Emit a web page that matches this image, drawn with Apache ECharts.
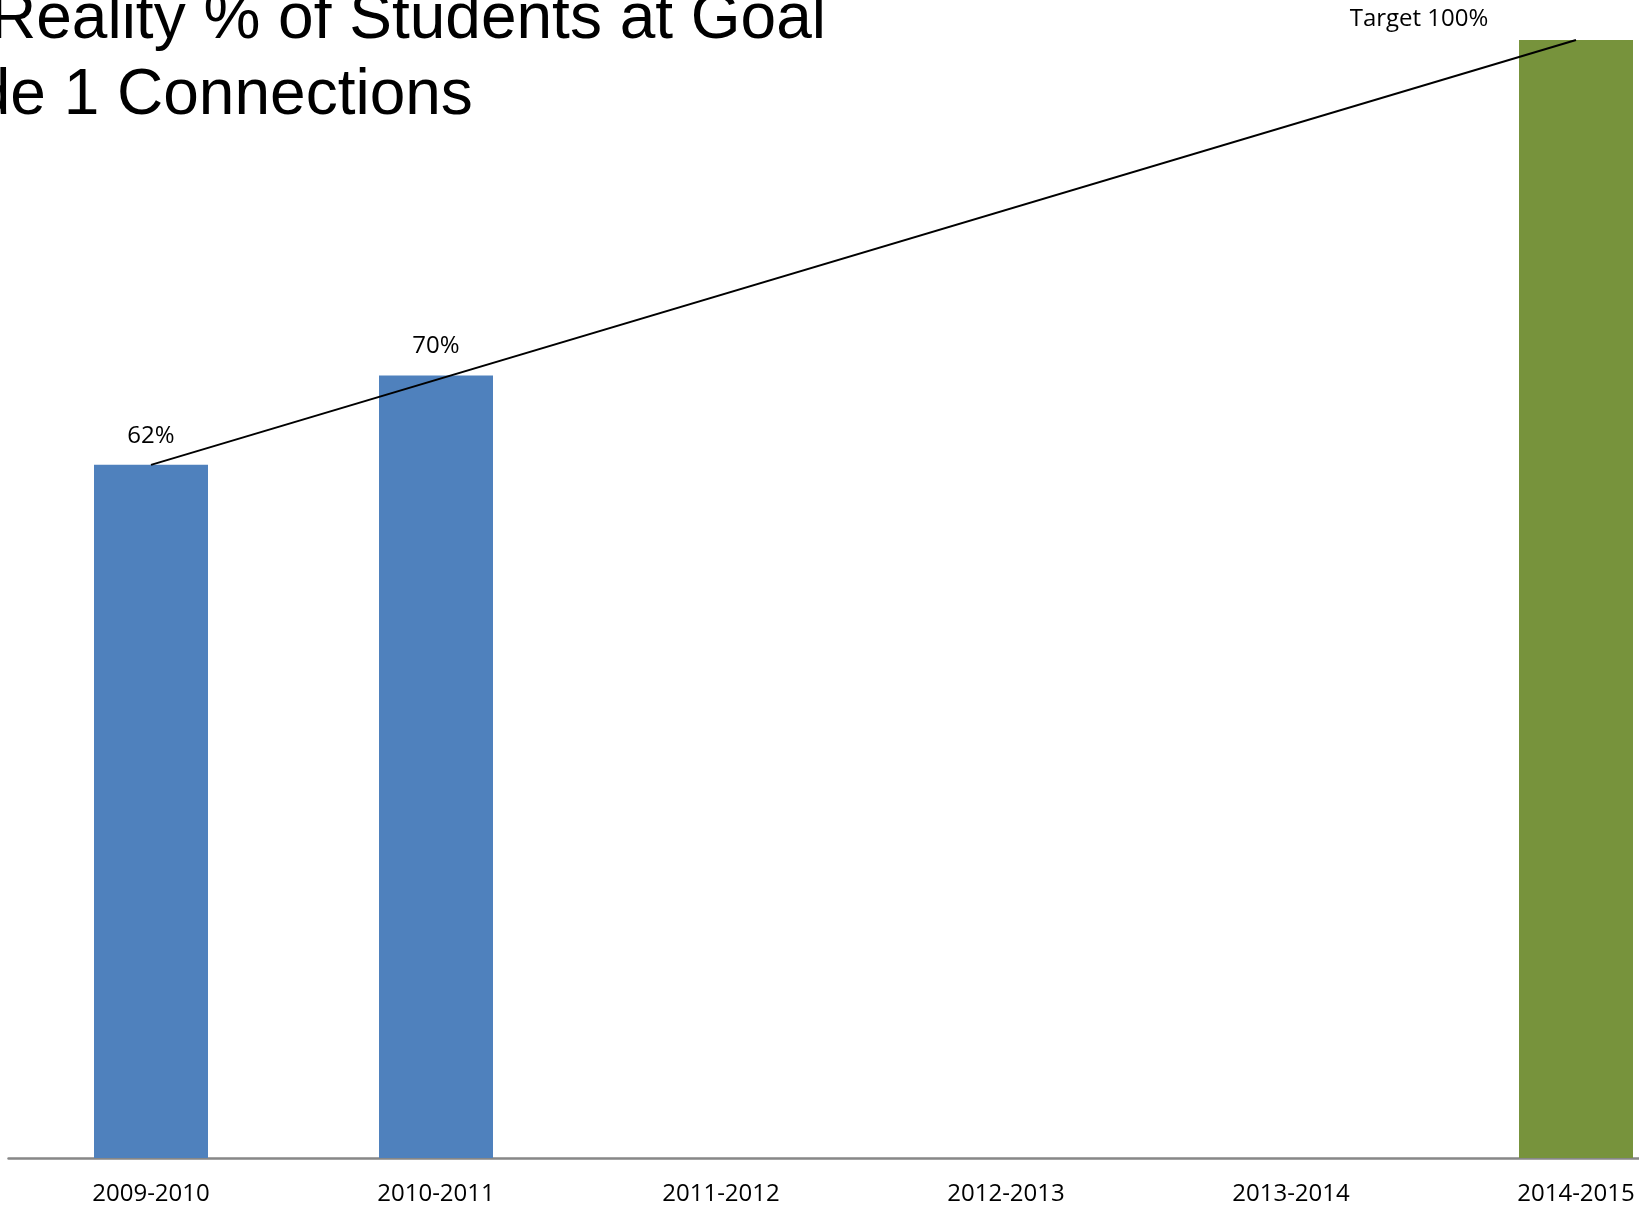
<!DOCTYPE html>
<html>
<head>
<meta charset="utf-8">
<script src="https://cdn.jsdelivr.net/npm/echarts@6/dist/echarts.min.js"></script>
<style>
html,body{margin:0;padding:0;background:#fff;}
#chart{width:1639px;height:1208px;}
</style>
</head>
<body>
<div id="chart"></div>
<script>
const categories = ['2009-2010', '2010-2011', '2011-2012', '2012-2013', '2013-2014', '2014-2015'];
const actual = [62, 70, null, null, null, null];
const target = [null, null, null, null, null, 100];
const trendLine = [62, null, null, null, null, 100];
const titleLine1 = 'Reality % of Students at Goal';
const titleLine2 = 'Grade 1 Connections';

const chart = echarts.init(document.getElementById('chart'));
const labelFont = { fontFamily: 'Open Sans', fontSize: 24, color: '#000' };
chart.setOption({
  animation: false,
  backgroundColor: '#fff',
  title: [
    { text: titleLine1, left: -10, top: -12, padding: 0,
      textStyle: { fontFamily: 'Liberation Sans', fontSize: 64, fontWeight: 'normal', color: '#000' } },
    { text: titleLine2, left: -132, top: 64, padding: 0,
      textStyle: { fontFamily: 'Liberation Sans', fontSize: 64, fontWeight: 'normal', color: '#000' } }
  ],
  grid: { left: 8.5, width: 1710, top: 40, bottom: 50, containLabel: false, outerBoundsMode: 'none' },
  xAxis: {
    type: 'category',
    data: categories,
    axisLine: { lineStyle: { color: '#878787', width: 2.5 } },
    axisTick: { show: false },
    axisLabel: { margin: 24, ...labelFont }
  },
  yAxis: { type: 'value', min: 0, max: 100, show: false, splitLine: { show: false } },
  series: [
    {
      name: 'Reality', type: 'bar', data: actual, barWidth: '40%', barGap: '-100%',
      itemStyle: { color: '#4F81BD' },
      label: { show: true, position: 'top', distance: 17, formatter: '{c}%', ...labelFont }
    },
    {
      name: 'Target', type: 'bar', data: target, barWidth: '40%', barGap: '-100%',
      itemStyle: { color: '#77933C' },
      label: { show: true, position: 'top', distance: 17, offset: [-157, 8], formatter: 'Target {c}%', ...labelFont }
    },
    {
      name: 'Trend', type: 'line', data: trendLine, connectNulls: true, showSymbol: false, symbol: 'none',
      lineStyle: { color: '#000', width: 2 }, z: 5
    }
  ]
});
</script>
</body>
</html>
